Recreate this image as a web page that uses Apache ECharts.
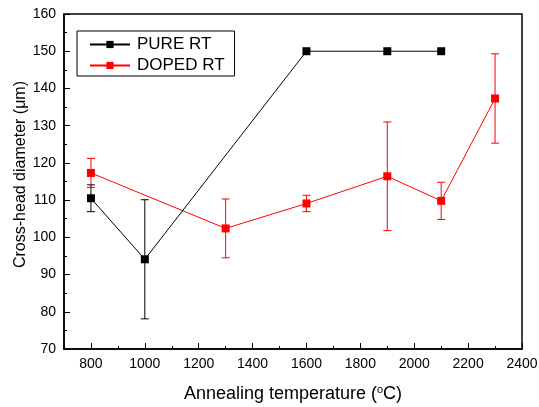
<!DOCTYPE html>
<html>
<head>
<meta charset="utf-8">
<script src="https://cdn.jsdelivr.net/npm/echarts@6/dist/echarts.min.js"></script>
<style>
  html, body { margin: 0; padding: 0; background: #fff; }
  #chart { width: 539px; height: 407px; }
</style>
</head>
<body>
<div id="chart"></div>
<script>
// annealing temperatures (°C) and cross-head diameters (µm)
var pureTemp = [800, 1000, 1600, 1900, 2100];
var pureDiam = [110.5, 94.1, 150, 150, 150];
var pureErr  = [3.6, 16, 0, 0, 0];

var dopedTemp = [800, 1300, 1600, 1900, 2100, 2300];
var dopedDiam = [117.3, 102.4, 109.1, 116.4, 109.8, 137.3];
var dopedErr  = [3.9, 7.9, 2.2, 14.6, 5.0, 12.0];

var seriesNames = ['PURE RT', 'DOPED RT'];
var FONT = 'Liberation Sans, Arial, sans-serif';

function pairs(xs, ys) {
  return xs.map(function (x, i) { return [x, ys[i]]; });
}
function errRows(xs, ys, es) {
  return xs.map(function (x, i) { return [x, ys[i] - es[i], ys[i] + es[i]]; });
}

// error bars drawn through the axis scales
function errorBars(color) {
  return function (params, api) {
    var x = api.value(0);
    var lo = api.coord([x, api.value(1)]);
    var hi = api.coord([x, api.value(2)]);
    if (Math.abs(lo[1] - hi[1]) < 0.5) return null;
    var w = 4;
    var st = { stroke: color, lineWidth: 1 };
    return {
      type: 'group',
      children: [
        { type: 'line', shape: { x1: lo[0], y1: lo[1], x2: hi[0], y2: hi[1] }, style: st },
        { type: 'line', shape: { x1: lo[0] - w, y1: lo[1], x2: lo[0] + w, y2: lo[1] }, style: st },
        { type: 'line', shape: { x1: hi[0] - w, y1: hi[1], x2: hi[0] + w, y2: hi[1] }, style: st }
      ]
    };
  };
}

var chart = echarts.init(document.getElementById('chart'));

var option = {
  animation: false,
  textStyle: { fontFamily: FONT },
  grid: {
    left: 64, top: 14, right: 17, bottom: 58,
    outerBoundsMode: 'none',
    show: true, borderColor: '#000', borderWidth: 1.5
  },
  legend: {
    data: seriesNames,
    orient: 'vertical',
    left: 77, top: 31,
    padding: [5, 10, 2, 12],
    itemGap: 4,
    itemWidth: 40, itemHeight: 9,
    borderColor: '#000', borderWidth: 1,
    textStyle: { fontFamily: FONT, fontSize: 17, color: '#000', padding: [0, 0, 0, 2] }
  },
  xAxis: [{
    type: 'value',
    min: 700, max: 2400,
    minInterval: 200, maxInterval: 200,
    splitLine: { show: false },
    axisLine: { lineStyle: { color: '#000', width: 1.5 } },
    axisTick: { inside: true, length: 6, lineStyle: { color: '#000' } },
    axisLabel: {
      showMinLabel: false, color: '#000', fontSize: 14, margin: 8, fontFamily: FONT,
      formatter: function (v) { return String(v); }
    },
    name: '{a|Annealing temperature (}{s|o}{a|C)}',
    nameLocation: 'middle',
    nameGap: 35,
    nameMoveOverlap: false,
    nameTextStyle: {
      rich: {
        a: { fontSize: 18, color: '#000', fontFamily: FONT },
        s: { fontSize: 11, color: '#000', fontFamily: FONT, verticalAlign: 'top', padding: [0, 0, 9, 0] }
      }
    }
  }, {
    type: 'value',
    min: 700, max: 2400, interval: 100,
    position: 'bottom',
    splitLine: { show: false },
    axisLine: { show: false },
    axisTick: { inside: true, length: 3, lineStyle: { color: '#000' } },
    axisLabel: { show: false }
  }],
  yAxis: {
    type: 'value',
    min: 70, max: 160, interval: 10,
    splitLine: { show: false },
    axisLine: { show: true, lineStyle: { color: '#000', width: 1.5 } },
    axisTick: { show: true, inside: true, length: 6, lineStyle: { color: '#000' } },
    minorTick: { show: true, splitNumber: 2, length: 3, lineStyle: { color: '#000' } },
    axisLabel: { color: '#000', fontSize: 14, margin: 8, fontFamily: FONT },
    name: 'Cross-head diameter (\u03bcm)',
    nameLocation: 'middle',
    nameGap: 35,
    nameMoveOverlap: false,
    nameTextStyle: { fontSize: 16, color: '#000', fontFamily: FONT, padding: [0, 0, 0, 14] }
  },
  series: [
    {
      type: 'custom',
      silent: true,
      renderItem: errorBars('#000'),
      encode: { x: 0, y: [1, 2] },
      data: errRows(pureTemp, pureDiam, pureErr),
      z: 1
    },
    {
      type: 'custom',
      silent: true,
      renderItem: errorBars('#ff0000'),
      encode: { x: 0, y: [1, 2] },
      data: errRows(dopedTemp, dopedDiam, dopedErr),
      z: 1
    },
    {
      name: seriesNames[0],
      type: 'line',
      data: pairs(pureTemp, pureDiam),
      symbol: 'rect', symbolSize: 8,
      itemStyle: { color: '#000' },
      lineStyle: { color: '#000', width: 1 },
      z: 3
    },
    {
      name: seriesNames[1],
      type: 'line',
      data: pairs(dopedTemp, dopedDiam),
      symbol: 'rect', symbolSize: 8,
      itemStyle: { color: '#ff0000' },
      lineStyle: { color: '#ff0000', width: 1 },
      z: 2
    }
  ]
};

chart.setOption(option);
</script>
</body>
</html>
